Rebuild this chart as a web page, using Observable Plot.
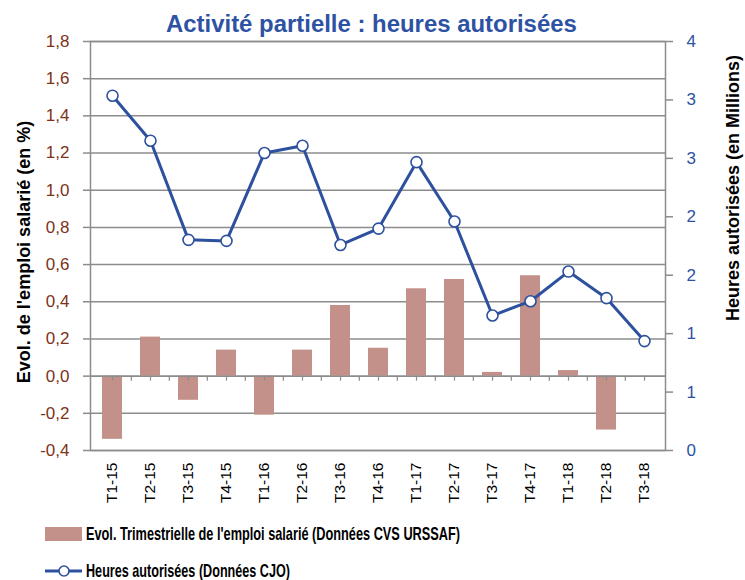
<!DOCTYPE html>
<html>
<head>
<meta charset="utf-8">
<script src="https://cdn.jsdelivr.net/npm/d3@7"></script>
<script src="https://cdn.jsdelivr.net/npm/@observablehq/plot@0.6"></script>
<style>
  html, body { margin: 0; padding: 0; background: #fff; }
  body { width: 745px; height: 580px; position: relative; overflow: hidden; font-family: "Liberation Sans", Arial, sans-serif; }
  #titletext { position: absolute; left: 166px; top: 12px; font-size: 20px; line-height: 24px; font-weight: bold; color: #2E52A3; white-space: nowrap; }
  #chart { position: absolute; left: 0; top: 0; }
  .leg { position: absolute; left: 45px; height: 22px; display: flex; align-items: center; white-space: nowrap; }
  .leg span { font-weight: bold; font-size: 19px; color: #000; display: inline-block; transform-origin: left center; font-family: "Liberation Sans", Arial, sans-serif; }
</style>
</head>
<body>
<div id="chart"></div>
<span id="titletext"></span>
<div class="leg" id="leg1" style="top:523px"></div>
<div class="leg" id="leg2" style="top:560px"></div>
<script>
// ---- data ----
const categories = ["T1-15","T2-15","T3-15","T4-15","T1-16","T2-16","T3-16","T4-16","T1-17","T2-17","T3-17","T4-17","T1-18","T2-18","T3-18"];
const emploi = [-0.34, 0.21, -0.13, 0.14, -0.21, 0.14, 0.38, 0.15, 0.47, 0.52, 0.02, 0.54, 0.03, -0.29, null];
const heures = [3.47, 3.03, 2.06, 2.05, 2.91, 2.98, 2.01, 2.17, 2.82, 2.24, 1.32, 1.46, 1.75, 1.49, 1.07];
const leftTicks = [-0.4, -0.2, 0, 0.2, 0.4, 0.6, 0.8, 1.0, 1.2, 1.4, 1.6, 1.8];
const leftDomain = [-0.4, 1.8];
const rightDomain = [0, 4];
const rightTickLabels = ["0", "1", "1", "2", "2", "3", "3", "4"];
const titleText = "Activité partielle : heures autorisées";
const leftTitle = "Evol. de l'emploi salarié (en %)";
const rightTitle = "Heures autorisées (en Millions)";
const legendBars = "Evol. Trimestrielle de l'emploi salarié (Données CVS URSSAF)";
const legendLine = "Heures autorisées (Données CJO)";

// ---- helpers ----
const toLeft = v => leftDomain[0] + (v - rightDomain[0]) / (rightDomain[1] - rightDomain[0]) * (leftDomain[1] - leftDomain[0]);
const rightTickPos = rightTickLabels.map((_, i) => toLeft(rightDomain[0] + i * (rightDomain[1] - rightDomain[0]) / (rightTickLabels.length - 1)));
const rightLabelOf = new Map(rightTickPos.map((p, i) => [p, rightTickLabels[i]]));

const rows = categories.map((c, i) => ({cat: c, emploi: emploi[i], heures: heures[i], hy: toLeft(heures[i])}));
const barRows = rows.filter(d => d.emploi != null);

const grey = "#8C8C8C";
const brown = "#7E3218";
const blue = "#2E52A3";
const lineBlue = "#2D509F";
const barFill = "#C4918A";
const fmtLeft = d => d.toFixed(1).replace(".", ",");

const chart = Plot.plot({
  width: 745,
  height: 510,
  marginTop: 41,
  marginBottom: 60,
  marginLeft: 90,
  marginRight: 80,
  style: {fontFamily: "'Liberation Sans', Arial, sans-serif", background: "transparent"},
  x: {type: "band", domain: categories, paddingInner: 0.48, paddingOuter: 0.24, axis: null, label: null},
  y: {domain: leftDomain, axis: null, label: null},
  marks: [
    Plot.ruleY(leftTicks, {stroke: grey, strokeWidth: 1.5}),
    Plot.frame({stroke: grey, strokeWidth: 1.5}),
    Plot.barY(barRows, {x: "cat", y: "emploi", fill: barFill}),
    Plot.ruleY([0], {stroke: grey, strokeWidth: 1.5}),
    // zero-line tick marks (category centres and boundaries)
    Plot.ruleX(categories, {x: d => d, y1: 0, y2: 0, insetBottom: -5, stroke: grey, strokeWidth: 1.2}),
    Plot.ruleX(categories.slice(1), {x: d => d, y1: 0, y2: 0, insetBottom: -5, dx: -19.2, stroke: grey, strokeWidth: 1.2}),
    // left axis
    Plot.axisY(leftTicks, {anchor: "left", label: null, tickSize: 7, tickPadding: 14, tickFormat: fmtLeft, stroke: grey, strokeWidth: 1.5, fill: brown, fontSize: 17}),
    // right axis (secondary scale mapped onto the left one)
    Plot.axisY(rightTickPos, {anchor: "right", label: null, tickSize: 7, tickPadding: 14, tickFormat: d => rightLabelOf.get(d), stroke: grey, strokeWidth: 1.5, fill: blue, fontSize: 17}),
    // x axis labels
    Plot.axisX(categories, {anchor: "bottom", label: null, tickSize: 0, tickPadding: 12, tickRotate: -90, fontSize: 15.5, fill: "#000"}),
    // line series
    Plot.line(rows, {x: "cat", y: "hy", stroke: lineBlue, strokeWidth: 3}),
    Plot.dot(rows, {x: "cat", y: "hy", r: 5.5, fill: "white", stroke: lineBlue, strokeWidth: 1.6}),
    // axis titles
    Plot.text([leftTitle], {text: d => d, frameAnchor: "left", textAnchor: "middle", dx: -66, dy: 6, rotate: -90, fontSize: 18, fontWeight: "bold", fill: "#000"}),
    Plot.text([rightTitle], {text: d => d, frameAnchor: "right", textAnchor: "middle", dx: 68, dy: -58, rotate: -90, fontSize: 18, fontWeight: "bold", fill: "#000"})
  ]
});
document.getElementById("chart").appendChild(chart);

// title: fit to reference width
const tt = document.getElementById("titletext");
tt.textContent = titleText;
const tw = tt.getBoundingClientRect().width;
if (tw > 0) tt.style.fontSize = (20 * 411 / tw).toFixed(2) + "px";

// legend
function legendItem(id, swatchSvg, label, targetWidth) {
  const el = document.getElementById(id);
  el.innerHTML = swatchSvg;
  const s = document.createElement("span");
  s.textContent = label;
  s.style.marginLeft = "4px";
  el.appendChild(s);
  const w = s.getBoundingClientRect().width;
  if (w > 0) s.style.transform = `scaleX(${targetWidth / w})`;
}
legendItem("leg1", `<svg width="37" height="22"><rect x="0" y="4" width="37" height="14" fill="${barFill}"/></svg>`, legendBars, 374);
legendItem("leg2", `<svg width="37" height="22"><line x1="0" x2="37" y1="11" y2="11" stroke="${lineBlue}" stroke-width="3"/><circle cx="19" cy="11" r="5" fill="white" stroke="${lineBlue}" stroke-width="1.6"/></svg>`, legendLine, 204);
</script>
</body>
</html>
